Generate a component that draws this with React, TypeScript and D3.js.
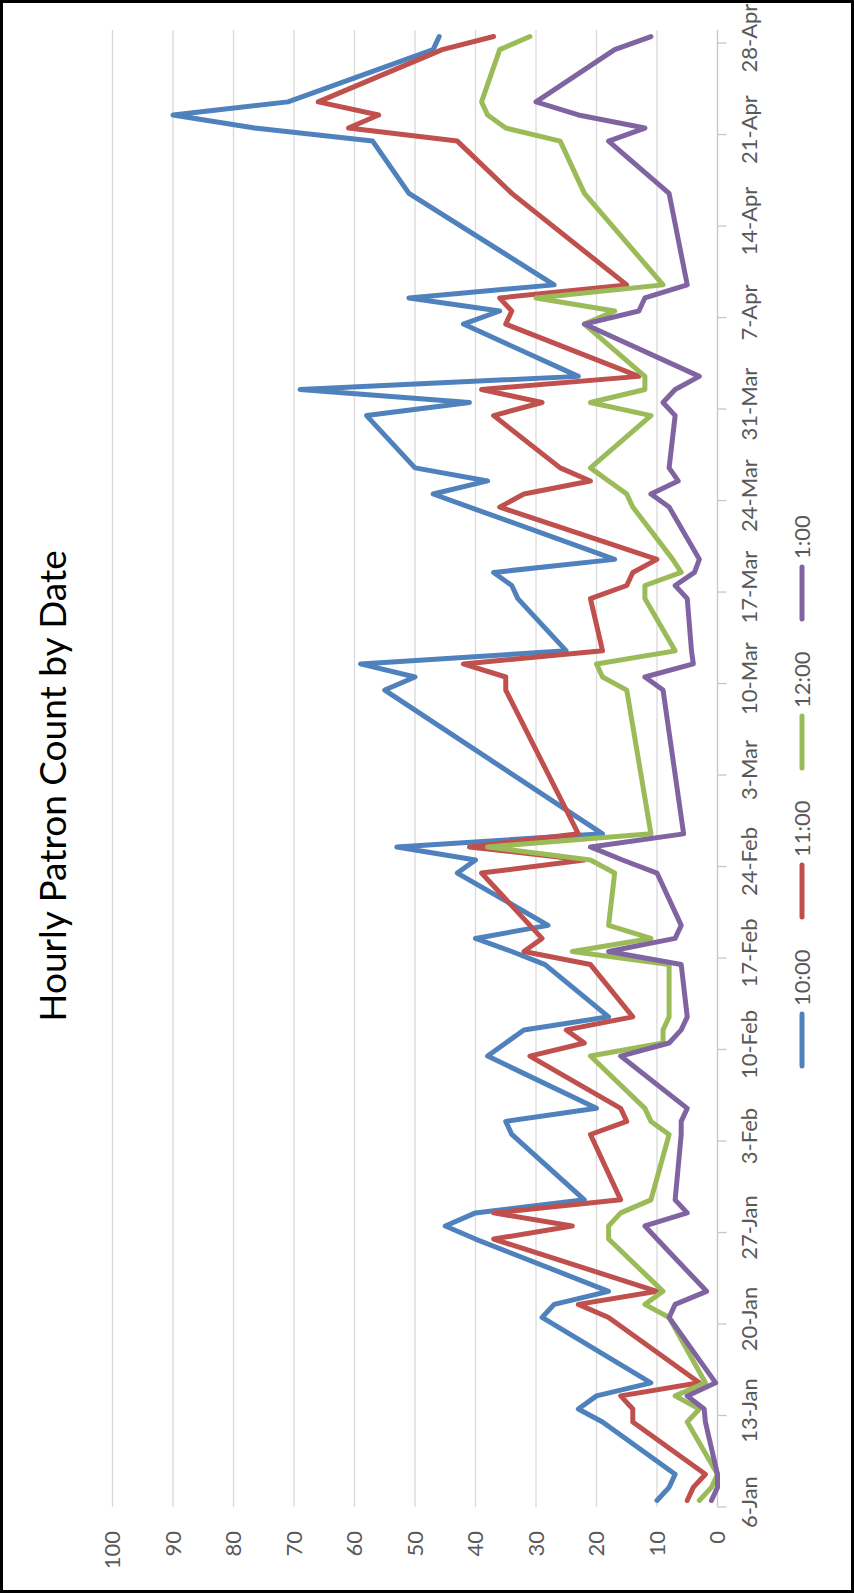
import React from "react";
import * as d3 from "d3";

// ---- data ----
const dates = [
  "2014-01-06", "2014-01-07", "2014-01-08",
  "2014-01-12", "2014-01-13", "2014-01-14", "2014-01-15",
  "2014-01-20", "2014-01-21", "2014-01-22",
  "2014-01-26", "2014-01-27", "2014-01-28", "2014-01-29",
  "2014-02-03", "2014-02-04", "2014-02-05",
  "2014-02-09", "2014-02-10", "2014-02-11", "2014-02-12",
  "2014-02-16", "2014-02-17", "2014-02-18", "2014-02-19",
  "2014-02-23", "2014-02-24", "2014-02-25", "2014-02-26",
  "2014-03-09", "2014-03-10", "2014-03-11", "2014-03-12",
  "2014-03-16", "2014-03-17", "2014-03-18", "2014-03-19",
  "2014-03-23", "2014-03-24", "2014-03-25", "2014-03-26",
  "2014-03-30", "2014-03-31", "2014-04-01", "2014-04-02",
  "2014-04-06", "2014-04-07", "2014-04-08", "2014-04-09",
  "2014-04-16",
  "2014-04-20", "2014-04-21", "2014-04-22", "2014-04-23",
  "2014-04-27", "2014-04-28",
];

const hour10 = [
  10, 8, 7,
  19, 23, 20, 11,
  29, 27, 18,
  40, 45, 40, 22,
  34, 35, 20,
  38, 35, 32, 18,
  28.5, 34, 40, 28,
  43, 40, 53, 19,
  55, 50, 59, 25,
  33, 34, 37, 17,
  41, 47, 38, 50,
  58, 41, 69, 23,
  42, 36, 51, 27,
  51,
  57, 76.5, 90, 71,
  47, 46,
];

const hour11 = [
  5, 4, 2,
  14, 14, 16, 3,
  18, 23, 10,
  37, 24, 37, 16,
  21, 15, 16,
  31, 22, 25, 14,
  21, 32, 29, 31,
  39, 22, 41, 23,
  35, 35, 42, 19,
  21, 15, 14, 10,
  36, 32, 21, 26,
  37, 29, 39, 13,
  35, 34, 36, 15,
  34,
  43, 61, 56, 66,
  45.5, 37,
];

const hour12 = [
  3, 1, 0,
  5, 3, 7, 2,
  8, 12, 9,
  18, 18, 16, 11,
  8, 11, 12,
  21, 9, 9, 8,
  8, 24, 11, 18,
  17, 21, 38, 11,
  15, 19, 20, 7,
  12, 12, 6, 7.4,
  14, 15, 18, 21,
  11, 21, 12, 12,
  22, 17, 30, 9,
  22,
  26, 35, 38, 39,
  36, 31,
];

const hour1 = [
  1, 0, 0,
  2, 2.2, 5, 0.3,
  8, 7, 1.8,
  10, 12, 5, 7,
  6, 6, 5,
  16, 8, 6, 5,
  6, 18, 7, 6,
  10, 15.7, 21, 5.6,
  9, 12, 4, 4.3,
  5, 7, 3.8, 3,
  8, 11, 6.5, 8,
  7, 9, 7, 3,
  22, 13, 12, 5,
  8,
  18, 12, 23, 30,
  17, 11,
];

const seriesNames = ["10:00", "11:00", "12:00", "1:00"];
const seriesColors = ["#4F81BD", "#C0504D", "#9BBB59", "#8064A2"];
const valueTicks = [0, 10, 20, 30, 40, 50, 60, 70, 80, 90, 100];
const axisStart = "2014-01-06";
const axisEnd = "2014-04-29";
const chartTitle = "Hourly Patron Count by Date";

const FONT = "Lato, 'Liberation Sans', sans-serif";

export default function App() {
  const W = 854;
  const H = 1593;
  const parse = d3.utcParse("%Y-%m-%d");
  const start = parse(axisStart) as Date;
  const end = parse(axisEnd) as Date;
  const pointDates = dates.map((d) => d3.utcHour.offset(parse(d) as Date, 12));

  const plotTop = 30;
  const plotBottom = 1507;
  const y = d3.scaleUtc().domain([start, end]).range([plotBottom, plotTop]);
  const x = d3.scaleLinear().domain([0, 100]).range([717.5, 112.5]);

  const dateTicks = d3.utcMonday.range(start, end);
  const fmt = d3.utcFormat("%-d-%b");

  const allSeries = [hour10, hour11, hour12, hour1];

  const line = d3
    .line<number>()
    .x((v) => x(v))
    .y((_, i) => y(pointDates[i]));

  // legend layout (vertical, rotated)
  const legendX = 802;
  const legendItems = [
    { y1: 1066, y2: 1014 },
    { y1: 917, y2: 865 },
    { y1: 768, y2: 716 },
    { y1: 619, y2: 567 },
  ];

  return (
    <svg
      width={W}
      height={H}
      style={{ position: "absolute", left: 0, top: 0, background: "#fff" }}
    >
      <rect x={0} y={0} width={W} height={H} fill="#fff" />
      {/* gridlines */}
      {valueTicks
        .filter((v) => v > 0)
        .map((v) => (
          <line
            key={"g" + v}
            x1={x(v)}
            x2={x(v)}
            y1={plotTop}
            y2={plotBottom}
            stroke="#d9d9d9"
            strokeWidth={1.3}
          />
        ))}
      {/* date axis line */}
      <line
        x1={x(0)}
        x2={x(0)}
        y1={plotTop}
        y2={plotBottom}
        stroke="#c6c6c6"
        strokeWidth={1.3}
      />
      {dateTicks.map((t) => (
        <g key={"t" + t.toISOString()}>
          <line
            x1={x(0)}
            x2={x(0) + 9}
            y1={y(t)}
            y2={y(t)}
            stroke="#c6c6c6"
            strokeWidth={1.3}
          />
          <text
            transform={`translate(757,${y(t) - 5}) rotate(-90)`}
            textAnchor="middle"
            fontFamily={FONT}
            fontSize={22}
            fill="#595959"
          >
            {fmt(t)}
          </text>
        </g>
      ))}
      {/* value labels */}
      {valueTicks.map((v) => (
        <text
          key={"v" + v}
          transform={`translate(${x(v)},1531) rotate(-90)`}
          textAnchor="end"
          dy="0.35em"
          fontFamily={FONT}
          fontSize={22}
          fill="#595959"
        >
          {v}
        </text>
      ))}
      {/* series */}
      {allSeries.map((s, i) => (
        <path
          key={"s" + i}
          d={line(s) || ""}
          fill="none"
          stroke={seriesColors[i]}
          strokeWidth={5}
          strokeLinejoin="round"
          strokeLinecap="round"
        />
      ))}
      {/* title */}
      <text
        transform={`translate(66,786) rotate(-90)`}
        textAnchor="middle"
        fontFamily={FONT}
        fontSize={37}
        fill="#000"
      >
        {chartTitle}
      </text>
      {/* legend */}
      {seriesNames.map((name, i) => (
        <g key={"l" + i}>
          <line
            x1={legendX}
            x2={legendX}
            y1={legendItems[i].y1}
            y2={legendItems[i].y2}
            stroke={seriesColors[i]}
            strokeWidth={5}
            strokeLinecap="round"
          />
          <text
            transform={`translate(${legendX},${legendItems[i].y2 - 8}) rotate(-90)`}
            textAnchor="start"
            dy="0.35em"
            fontFamily={FONT}
            fontSize={22}
            fill="#595959"
          >
            {name}
          </text>
        </g>
      ))}
      {/* outer border */}
      <rect
        x={1.5}
        y={1.5}
        width={W - 3}
        height={H - 3}
        fill="none"
        stroke="#000"
        strokeWidth={3}
      />
    </svg>
  );
}
